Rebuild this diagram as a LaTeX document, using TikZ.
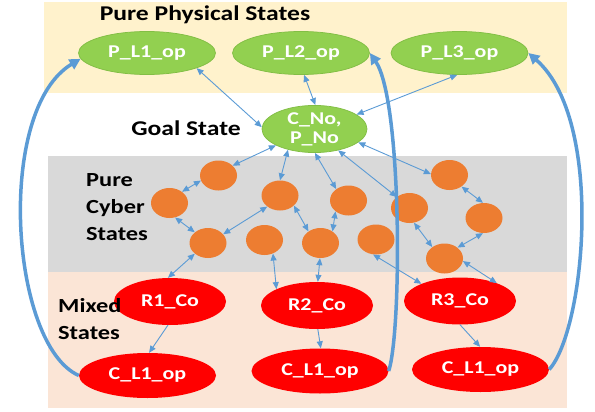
\documentclass[tikz,border=0pt]{standalone}
\usepackage{fontspec}
\setmainfont{Carlito}[FakeStretch=1.22]
\usetikzlibrary{arrows.meta,shapes.geometric}
\definecolor{physbg}{HTML}{FFF2CC}
\definecolor{cyberbg}{HTML}{D9D9D9}
\definecolor{mixbg}{HTML}{FBE5D6}
\definecolor{grn}{HTML}{92D050}
\definecolor{grnd}{HTML}{82BE45}
\definecolor{org}{HTML}{ED7D31}
\definecolor{blu}{HTML}{5B9BD5}
\tikzset{
  phys/.style={ellipse, fill=grn, draw=grnd, line width=0.75pt, minimum width=137pt, minimum height=43pt, inner sep=0pt, text=white, font=\fontsize{18}{19}\selectfont\bfseries},
  goalnode/.style={phys, minimum width=105pt, minimum height=42pt, align=center},
  cyb/.style={ellipse, fill=org, minimum width=37pt, minimum height=30pt, inner sep=0pt},
  mixr/.style={ellipse, fill=red, minimum width=112pt, minimum height=47pt, inner sep=0pt, text=white, font=\fontsize{18}{19}\selectfont\bfseries},
  mixc/.style={mixr, minimum width=137pt, minimum height=45pt},
  head/.style={inner sep=0pt, text=black, font=\fontsize{21}{25}\selectfont\bfseries},
  sidehead/.style={inner sep=0pt, text=black, align=left, anchor=west, font=\fontsize{20}{27}\selectfont\bfseries},
  link/.style={draw=blu, line width=0.9pt, {Triangle[length=7pt,width=6pt]}-{Triangle[length=7pt,width=6pt]}},
  onelink/.style={draw=blu, line width=0.9pt, -{Triangle[length=7pt,width=6pt]}},
  bigarrow/.style={draw=blu, line width=3.5pt, -{Triangle[length=11pt,width=11pt]}}
}
\begin{document}
\begin{tikzpicture}[x=1pt,y=-1pt]
\useasboundingbox (0,0) rectangle (595,412);
\fill[physbg] (44,2) rectangle (567,93);
\fill[cyberbg] (48,156) rectangle (567,272);
\fill[mixbg] (48,272) rectangle (567,408);

% physical states
\node[phys] (p1) at (147,53) {P\_L1\_op};
\node[phys] (p2) at (301,53) {P\_L2\_op};
\node[phys] (p3) at (459.5,53) {P\_L3\_op};
\node[goalnode] (g) at (314.5,129) {C\_No,\\P\_No};

% cyber states
\node[cyb] (o1) at (218.5,175.5) {};
\node[cyb] (o2) at (169.5,203) {};
\node[cyb] (o3) at (208,243) {};
\node[cyb] (o4) at (280,195.5) {};
\node[cyb] (o5) at (264.5,240) {};
\node[cyb] (o7) at (348.5,200.5) {};
\node[cyb] (o8) at (320.5,243) {};
\node[cyb] (o9) at (376,239.5) {};
\node[cyb] (o10) at (409.5,208) {};
\node[cyb] (o11) at (449.5,175) {};
\node[cyb] (o12) at (484,218) {};
\node[cyb] (o13) at (444.5,258.5) {};

% mixed states
\node[mixr] (r1) at (170,301.5) {R1\_Co};
\node[mixr] (r2) at (317,305.5) {R2\_Co};
\node[mixr] (r3) at (460,301) {R3\_Co};
\node[mixc] (c1) at (147.5,375.5) {C\_L1\_op};
\node[mixc] (c2) at (320,371) {C\_L1\_op};
\node[mixc] (c3) at (480.5,369.5) {C\_L1\_op};

% headings
\node[head] (hphys) at (205,15) {Pure Physical States};
\node[head] (hgoal) at (186,128) {Goal State};
\node[sidehead] (hcyber) at (86,207) {Pure\\Cyber\\States};
\node[sidehead] (hmixed) at (58,319.5) {Mixed\\States};

% thin links
\draw[link] (p1.-17) -- (g.178);
\draw[link] (p2.-82) -- (g.88);
\draw[link] (p3.-96) -- (g.19);
\draw[link] (g.203) -- (o1.35);
\draw[link] (o1.196) -- (o2.42);
\draw[link] (o2.-69) -- (o3.141);
\draw[link] (o3.30) -- (o4.221);
\draw[link] (o3.219) -- (r1.95);
\draw[link] (g.218) -- (o4.90);
\draw[link] (g.-89) -- (o7.137);
\draw[link] (o4.-36) -- (o8.136);
\draw[link] (o7.220) -- (o8.44);
\draw[link] (o8.-92) -- (r2.88);
\draw[link] (o5.-58) -- (r2.158);
\draw[link] (g.-42) -- (o10.139);
\draw[link] (g.-17) -- (o11.177);
\draw[link] (o11.-44) -- (o12.94);
\draw[link] (o12.-94) -- (o13.40);
\draw[link] (o10.-73) -- (o13.137);
\draw[link] (o13.-8) -- (r3.26);
\draw[link] (o9.-101) -- (r3.156);
\draw[onelink] (r1.-95) -- (c1.86);
\draw[onelink] (r2.-88) -- (c2.88);
\draw[onelink] (r3.-90) -- (c3.91);

% thick feedback arrows
\draw[bigarrow] (c1.west) .. controls (10,345) and (-5,110) .. (p1.185);
\draw[bigarrow] (c2.east) .. controls (402,330) and (402,100) .. (p2.east);
\draw[bigarrow] (c3.east) .. controls (585,330) and (605,120) .. (p3.east);
\end{tikzpicture}
\end{document}
